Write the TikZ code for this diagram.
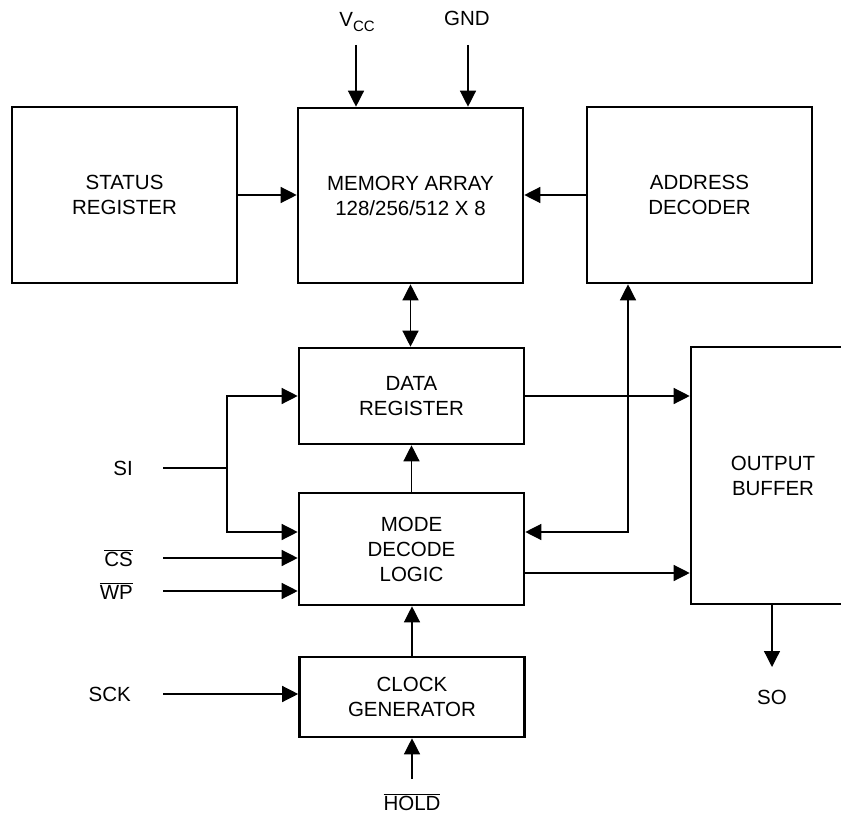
\documentclass[tikz,border=0pt]{standalone}
\usepackage{fontspec}
\setmainfont{Liberation Sans}
\usetikzlibrary{arrows.meta}

\begin{document}
\begin{tikzpicture}[x=1pt,y=-1pt,
	  blk/.style={draw, line width=2.6pt, minimum width=225pt, align=center, inner sep=0pt,
	    font=\fontsize{20.5}{25}\selectfont},
	  lbl/.style={inner sep=0pt, font=\fontsize{20.5}{25}\selectfont},
	  wire/.style={line width=1.3pt},
	  arr/.style={wire, -{Triangle[length=16pt,width=16pt]}},
	  darr/.style={wire, {Triangle[length=16pt,width=16pt]}-{Triangle[length=16pt,width=16pt]}}]
	  \clip (0,0) rectangle (841,813);

	  \node[blk, minimum height=176pt] (status) at (124.5,195) {STATUS\\REGISTER};
	  \node[blk, minimum height=175pt] (mem) at (410.5,195.5) {MEMORY ARRAY\\128/256/512 X 8};
	  \node[blk, minimum height=176pt] (addr) at (699.5,195) {ADDRESS\\DECODER};
	  \node[blk, minimum height=96pt] (data) at (411.5,396) {DATA\\REGISTER};
	  \node[blk, minimum height=112pt] (mode) at (411.5,549) {MODE\\DECODE\\LOGIC};
	  \node[blk, minimum height=80pt] (clock) at (412,697) {CLOCK\\GENERATOR};
	  \node[blk, minimum width=164pt, minimum height=257pt] (out) at (773,475.5) {OUTPUT\\BUFFER};

	  \node[lbl] (vcc) at (357,22) {V\raisebox{-5pt}{\fontsize{15}{15}\selectfont CC}};
	  \node[lbl] (gnd) at (467,18) {GND};
	  \node[lbl, anchor=east] (si) at (133,468) {SI};
	  \node[lbl, anchor=east] (cs) at (133,558) {$\overline{\mbox{CS}}$};
	  \node[lbl, anchor=east] (wp) at (133,591) {$\overline{\mbox{WP}}$};
	  \node[lbl, anchor=east] (sck) at (131,694) {SCK};
	  \node[lbl] (hold) at (412,802) {$\overline{\mbox{HOLD}}$};
	  \node[lbl] (so) at (772,697) {SO};

	  \coordinate (vccin) at (356,45);
	  \coordinate (gndin) at (468,45);
	  \coordinate (sij) at (227,468);
	  \coordinate (simode) at (227,532);
	  \coordinate (abend) at (628,532);
	  \coordinate (holdin) at (412,779);
	  \coordinate (soout) at (772,667);

	  \draw[arr] (vccin) -- (vccin |- mem.north);
	  \draw[arr] (gndin) -- (gndin |- mem.north);
	  \draw[arr] (status.east) -- (status.east -| mem.west);
	  \draw[arr] (addr.west) -- (addr.west -| mem.east);
	  \draw[darr] (mem.south) -- (mem.south |- data.north);
	  \draw[arr] (mode.north) -- (data.south);
	  \draw[arr] (clock.north) -- (clock.north |- mode.south);
	  \draw[arr] (holdin) -- (clock.south);

	  \draw[wire] ([xshift=30pt]si.east) -- (sij);
	  \draw[arr] (sij) |- (data.west);
	  \draw[arr] (sij) -- (simode) -- (simode -| mode.west);
	  \draw[arr] ([xshift=30pt]cs.east) -- (cs.east -| mode.west);
	  \draw[arr] ([xshift=30pt]wp.east) -- (wp.east -| mode.west);
	  \draw[arr] ([xshift=32pt]sck.east) -- (sck.east -| clock.west);

	  \draw[arr] (data.east) -- (data.east -| out.west);
	  \draw[arr] ([yshift=-24pt]mode.east) -- ([yshift=-24pt]mode.east -| out.west);
	  \draw[darr] (abend |- addr.south) -- (abend) -- (abend -| mode.east);
	  \draw[arr] (soout |- out.south) -- (soout);
	  %\draw[gray, dashed] (out.north east) -- (out.south east);
	\end{tikzpicture}
\end{document}
